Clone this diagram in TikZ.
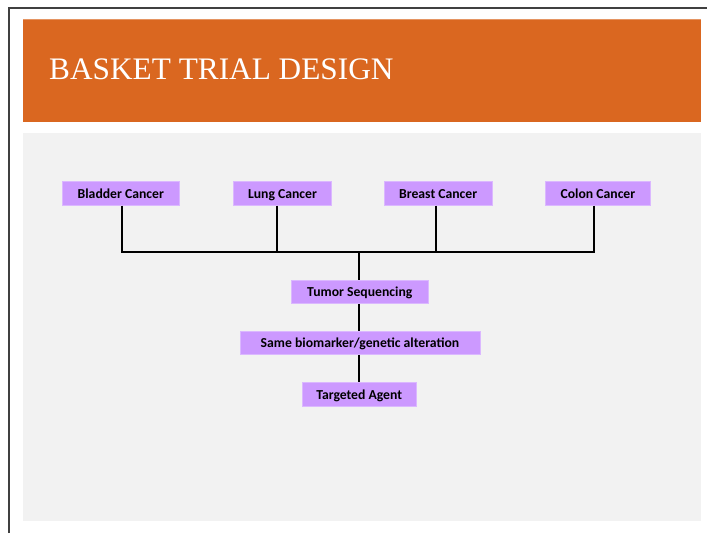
\documentclass[tikz,border=0pt]{standalone}
\usepackage{fontspec}
\setmainfont{Liberation Serif}
\newfontfamily\boxfont{Carlito}
\definecolor{bannerorange}{HTML}{DA6720}
\definecolor{panelgray}{HTML}{F2F2F2}
\definecolor{boxpurple}{HTML}{CC99FF}
\definecolor{framegray}{HTML}{404040}
\begin{document}
\begin{tikzpicture}[x=1pt,y=-1pt,
  pbox/.style={fill=boxpurple, draw=boxpurple!70!white, line width=0.6pt, inner sep=0pt,
    text height=9.6pt, text depth=0pt,
    font=\boxfont\bfseries\fontsize{13.7}{15}\selectfont, text=black},
  conn/.style={draw=black, line width=2pt}]
\useasboundingbox (0,0) rectangle (707,533);
\fill[white] (0,0) rectangle (707,533);
% outer frame
\draw[framegray, line width=2pt] (8.5,533) -- (8.5,8) -- (707,8);
% banner
\fill[bannerorange] (23,19) rectangle (701,122);
\draw[bannerorange!70!white, line width=0.8pt] (23,19.4) -- (701,19.4);
\node[anchor=base west, text=white, font=\fontsize{31.3}{36}\selectfont, inner sep=0pt] (title) at (49,79) {BASKET TRIAL DESIGN};
% panel
\fill[panelgray] (23,133) rectangle (701,521);
% boxes
\node[pbox, minimum width=117pt, minimum height=23.5pt] (bl) at (120.8,193.5) {Bladder Cancer};
\node[pbox, minimum width=98.5pt, minimum height=23.5pt] (lu) at (282.5,193.5) {Lung Cancer};
\node[pbox, minimum width=108.5pt, minimum height=23.5pt] (br) at (438.2,193.5) {Breast Cancer};
\node[pbox, minimum width=104.5pt, minimum height=23.5pt] (co) at (597.9,193.5) {Colon Cancer};
\node[pbox, minimum width=137.5pt, minimum height=23.5pt] (ts) at (359.8,291.7) {Tumor Sequencing};
\node[pbox, minimum width=240pt, minimum height=23.5pt] (sb) at (360,342.7) {Same biomarker/genetic alteration};
\node[pbox, minimum width=114pt, minimum height=24pt] (ta) at (359.2,394.5) {Targeted Agent};
% connectors
\coordinate (hub) at (358.7,252);
\draw[conn] ([xshift=0.9pt]bl.south) |- (hub);
\draw[conn] ([xshift=-3.6pt]co.south) |- (hub);
\draw[conn] ([xshift=-5.5pt]lu.south) -- ([xshift=-5.5pt]lu.south |- hub);
\draw[conn] ([xshift=-2.2pt]br.south) -- ([xshift=-2.2pt]br.south |- hub);
\draw[conn] (hub) -- (hub |- ts.north);
\draw[conn] (ts.south -| hub) -- (sb.north -| hub);
\draw[conn] (sb.south -| hub) -- (ta.north -| hub);
\end{tikzpicture}
\end{document}
